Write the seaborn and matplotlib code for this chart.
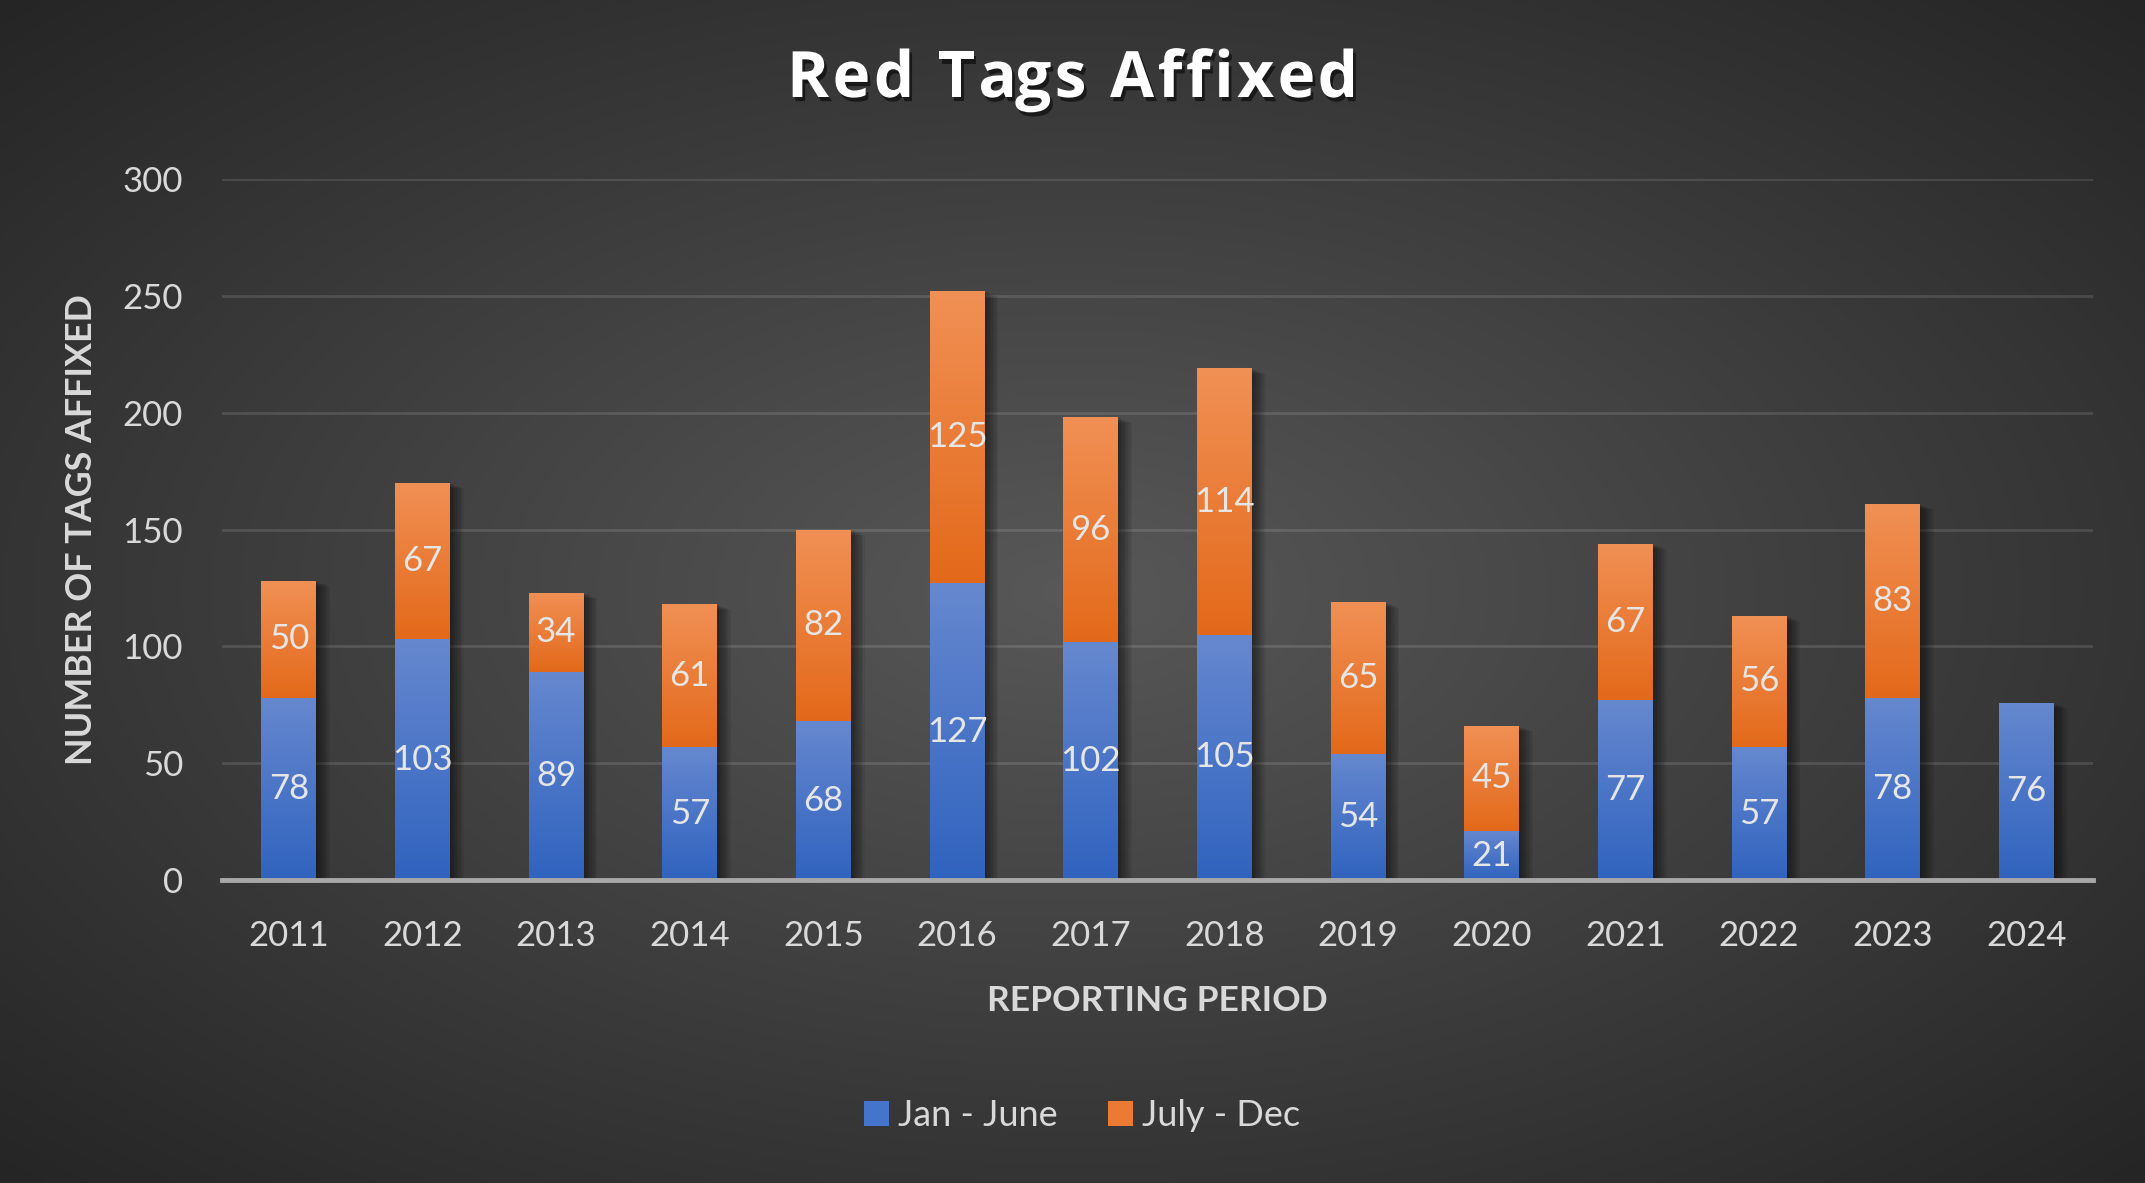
import numpy as np
import pandas as pd
import matplotlib
matplotlib.use("Agg")
import matplotlib.pyplot as plt
import seaborn as sns
from matplotlib import patheffects as pe
from matplotlib.colors import LinearSegmentedColormap
from matplotlib.patches import Patch

# ---------------- data ----------------
years = ["2011", "2012", "2013", "2014", "2015", "2016", "2017",
         "2018", "2019", "2020", "2021", "2022", "2023", "2024"]
jan_june = [78, 103, 89, 57, 68, 127, 102, 105, 54, 21, 77, 57, 78, 76]
july_dec = [50, 67, 34, 61, 82, 125, 96, 114, 65, 45, 67, 56, 83, 0]
series_names = ["Jan - June", "July - Dec"]
y_ticks = [0, 50, 100, 150, 200, 250, 300]
title = "Red Tags Affixed"
x_label = "REPORTING PERIOD"
y_label = "NUMBER OF TAGS AFFIXED"

df = pd.DataFrame({"year": years, "jan": jan_june, "jul": july_dec})
df["total"] = df["jan"] + df["jul"]

# ---------------- style ----------------
sns.set_theme(style="dark")
plt.rcParams["font.family"] = ["Lato", "DejaVu Sans"]
TXT = "#d9d9d9"
BLUE_TOP, BLUE_BOT = "#6688cf", "#3063bf"
ORNG_TOP, ORNG_BOT = "#f19055", "#e3691a"

fig = plt.figure(figsize=(21.45, 11.83), dpi=100)

# radial background
bg = fig.add_axes([0, 0, 1, 1], zorder=-10)
H, W = 300, 545
yy, xx = np.mgrid[0:H, 0:W]
r = np.sqrt(((xx / (W - 1) - 0.5) / 0.5) ** 2 + ((yy / (H - 1) - 0.5) / 0.5) ** 2) / np.sqrt(2)
g = (0x58 - (0x58 - 0x25) * np.clip(r, 0, 1)) / 255.0
bg.imshow(np.dstack([g, g, g]), aspect="auto", extent=[0, 1, 0, 1], interpolation="bilinear")
bg.set_axis_off()

ax = fig.add_axes([0.1035, 0.256, 0.8723, 0.5927])
ax.patch.set_alpha(0)

sns.barplot(data=df, x="year", y="total", color=ORNG_BOT, width=0.41,
            saturation=1, errorbar=None, ax=ax, linewidth=0)
sns.barplot(data=df, x="year", y="jan", color=BLUE_BOT, width=0.41,
            saturation=1, errorbar=None, ax=ax, linewidth=0)

n = len(years)
orange_patches = ax.patches[:n]
blue_patches = ax.patches[n:2 * n]

grad = np.linspace(0, 1, 256).reshape(-1, 1)
cm_b = LinearSegmentedColormap.from_list("b", [BLUE_BOT, BLUE_TOP])
cm_o = LinearSegmentedColormap.from_list("o", [ORNG_BOT, ORNG_TOP])

soft_shadow = [pe.SimplePatchShadow(offset=(k, -0.4 * k), shadow_rgbFace="black", alpha=0.055)
               for k in range(1, 11)] + [pe.Normal()]

for i, p in enumerate(orange_patches):
    p.set_zorder(2)
    p.set_path_effects(soft_shadow)
    x0, w = p.get_x(), p.get_width()
    if df["jul"][i] > 0:
        im = ax.imshow(grad, extent=[x0, x0 + w, df["jan"][i], df["total"][i]],
                       origin="lower", aspect="auto", cmap=cm_o, zorder=2.5)
        im.set_clip_path(p)
for i, p in enumerate(blue_patches):
    p.set_zorder(2.2)
    x0, w = p.get_x(), p.get_width()
    im = ax.imshow(grad, extent=[x0, x0 + w, 0, df["jan"][i]],
                   origin="lower", aspect="auto", cmap=cm_b, zorder=2.6)
    im.set_clip_path(p)

# data labels
for i in range(n):
    ax.text(i, df["jan"][i] / 2, str(df["jan"][i]), ha="center", va="center",
            fontsize=25, color="#e6e6e6", zorder=5)
    if df["jul"][i] > 0:
        ax.text(i, df["jan"][i] + df["jul"][i] / 2, str(df["jul"][i]), ha="center",
                va="center", fontsize=25, color="#e6e6e6", zorder=5)

ax.set_xlim(-0.5, n - 0.5)
ax.set_ylim(0, 300)
ax.set_yticks(y_ticks)
ax.set_axisbelow(True)
ax.yaxis.grid(True, color="white", alpha=0.12, lw=2)
ax.xaxis.grid(False)
for s in ["top", "right", "left"]:
    ax.spines[s].set_visible(False)
ax.spines["bottom"].set_color("#a8a8a8")
ax.spines["bottom"].set_linewidth(3.5)
ax.spines["bottom"].set_zorder(4)
ax.tick_params(axis="x", length=0, pad=29, labelsize=25, labelcolor=TXT)
ax.tick_params(axis="y", length=0, pad=28, labelsize=25, labelcolor=TXT)

ax.set_xlabel(x_label, fontsize=25.5, fontweight="bold", color=TXT)
ax.xaxis.label.set_va("center")
ax.xaxis.set_label_coords(0.5, -0.173)
ax.set_ylabel(y_label, fontsize=25.8, fontweight="bold", color=TXT)
ax.yaxis.label.set_va("center")
ax.yaxis.set_label_coords(-0.075, 0.5)

# title with letter spacing (tracking)
renderer = fig.canvas.get_renderer()
tkw = dict(fontsize=46, fontweight="bold", color="white", family=["Open Sans", "DejaVu Sans"],
           va="baseline", ha="left")
shadow_fx = [pe.withSimplePatchShadow(offset=(2, -3), shadow_rgbFace="black", alpha=0.55)]
track = 3.5  # px between characters
widths = []
for k in range(len(title) + 1):
    t = fig.text(0, 0, title[:k] if k else "", **tkw)
    widths.append(t.get_window_extent(renderer).width if k else 0.0)
    t.remove()
total_w = widths[-1] + track * (len(title) - 1)
x_start = fig.bbox.width / 2 - total_w / 2
baseline_px = fig.bbox.height - 97
for k, ch in enumerate(title):
    if ch == " ":
        continue
    fig.text((x_start + widths[k] + track * k) / fig.bbox.width, baseline_px / fig.bbox.height,
             ch, path_effects=shadow_fx, **tkw)

handles = [Patch(facecolor="#4474cc", edgecolor="none"), Patch(facecolor="#ec7a32", edgecolor="none")]
leg = fig.legend(handles, series_names, loc="center", bbox_to_anchor=(0.5045, 0.057), ncol=2,
                 frameon=False, fontsize=26, labelcolor=TXT, handlelength=0.7, handleheight=0.7,
                 handletextpad=0.25, columnspacing=1.4)

fig.savefig("out.png", dpi=100)
